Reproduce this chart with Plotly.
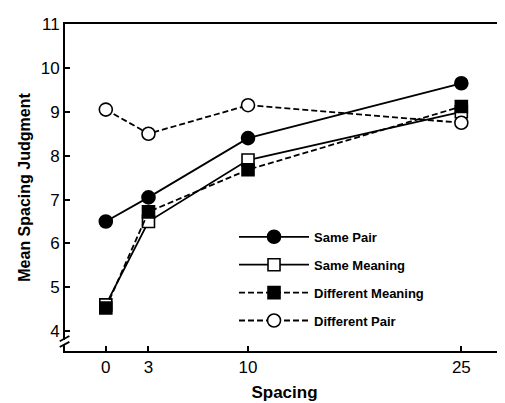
import plotly.graph_objects as go

spacing = [0, 3, 10, 25]
same_pair = [6.5, 7.05, 8.4, 9.65]
same_meaning = [4.6, 6.5, 7.9, 9.0]
different_meaning = [4.53, 6.72, 7.68, 9.12]
different_pair = [9.05, 8.5, 9.15, 8.75]

x_ticks = [0, 3, 10, 25]
y_ticks = [4, 5, 6, 7, 8, 9, 10, 11]

FONT = "Liberation Sans"

fig = go.Figure()

series = [
    ("Same Pair", same_pair, "circle", "black", "solid"),
    ("Same Meaning", same_meaning, "square", "white", "solid"),
    ("Different Meaning", different_meaning, "square", "black", "dash"),
    ("Different Pair", different_pair, "circle", "white", "dash"),
]

for i, (name, vals, sym, fill, dash) in enumerate(series):
    fig.add_trace(go.Scatter(
        x=spacing, y=vals, name=f"<b>{name}</b>", mode="lines+markers",
        legendgroup=f"g{i}",
        line=dict(color="black", width=1.8, dash="solid" if dash == "solid" else "6px,3px"),
        marker=dict(symbol=sym, size=13 if sym == "circle" else 12,
                    color=fill, line=dict(color="black", width=1.6)),
    ))

axis_common = dict(
    showline=True, linecolor="black", linewidth=2, mirror=True,
    ticks="inside", ticklen=5, tickwidth=2, tickcolor="black",
    showgrid=False, zeroline=False,
    tickfont=dict(family=FONT, size=17, color="black"),
)

fig.update_xaxes(range=[-2.87, 28.0], tickmode="array", tickvals=x_ticks,
                 ticktext=[str(t) for t in x_ticks],
                 title=dict(text="<b>Spacing</b>", font=dict(family=FONT, size=17, color="black"), standoff=10),
                 **axis_common)
fig.update_yaxes(range=[3.55, 11.0], tickmode="array", tickvals=y_ticks,
                 ticktext=[str(t) for t in y_ticks],
                 title=dict(text="<b>Mean Spacing Judgment</b>", font=dict(family=FONT, size=16, color="black"), standoff=6),
                 **axis_common)

# axis break marks on the left and right axes near the bottom
shapes = []
for xc in (0.0, 0.999):
    shapes.append(dict(type="line", xref="paper", yref="paper", layer="above",
                       x0=xc, x1=xc, y0=0.018, y1=0.034,
                       line=dict(color="white", width=4)))
    for dy in (0.0, 0.018):
        shapes.append(dict(type="line", xref="paper", yref="paper", layer="above",
                           x0=xc - 0.012, x1=xc + 0.010,
                           y0=0.012 + dy, y1=0.028 + dy,
                           line=dict(color="black", width=1.8)))
fig.update_layout(shapes=shapes)

fig.update_layout(
    width=505, height=403,
    margin=dict(l=57, r=7, t=14, b=60),
    paper_bgcolor="white", plot_bgcolor="white",
    font=dict(family=FONT, color="black"),
    legend=dict(x=0.385, y=0.395, xanchor="left", yanchor="top",
                bgcolor="rgba(0,0,0,0)", itemwidth=70, tracegroupgap=8,
                font=dict(family=FONT, size=13, color="black")),
    showlegend=True,
)

fig.write_html("out.html")
